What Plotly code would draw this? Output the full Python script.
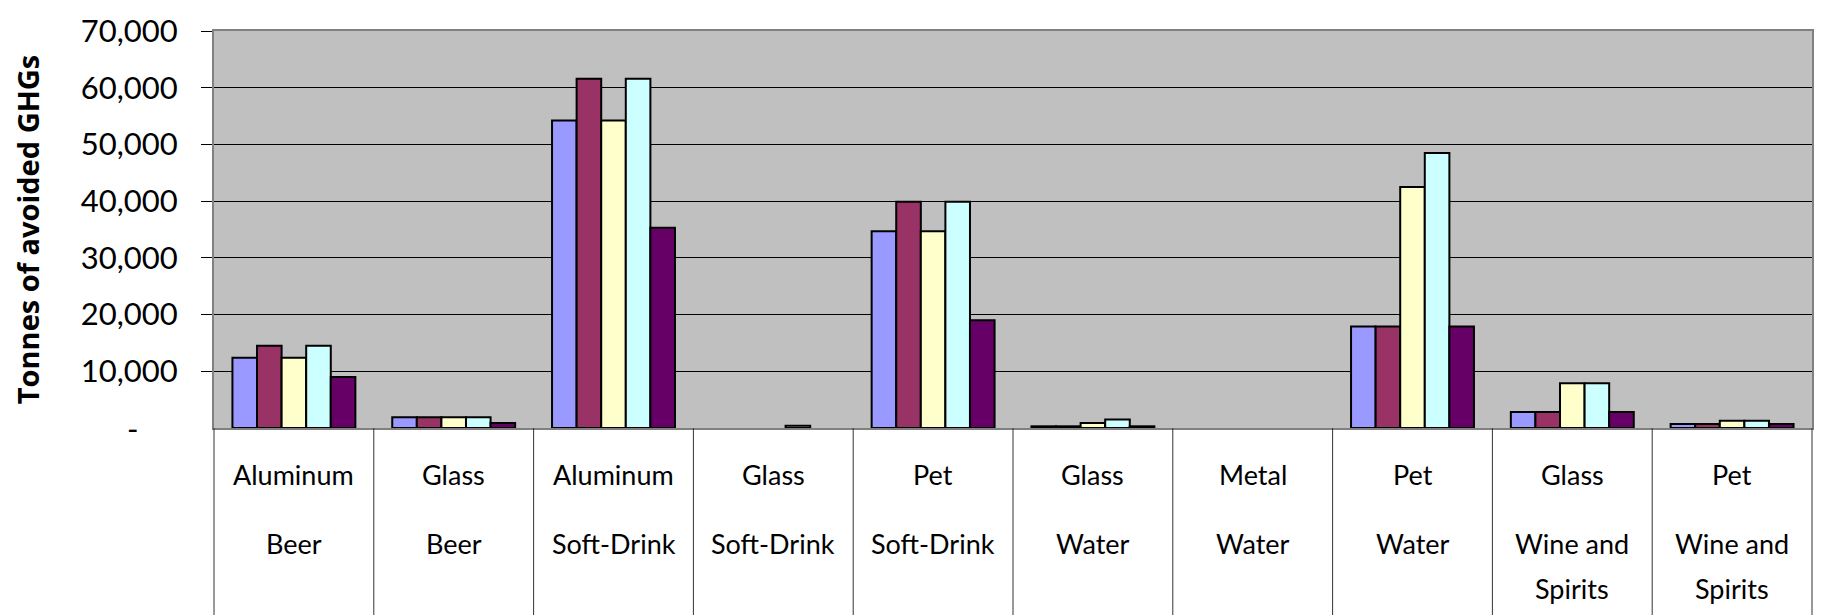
import plotly.graph_objects as go

# Container material (first label row) and beverage type (second label row)
materials = ["Aluminum", "Glass", "Aluminum", "Glass", "Pet", "Glass", "Metal", "Pet", "Glass", "Pet"]
beverages = ["Beer", "Beer", "Soft-Drink", "Soft-Drink", "Soft-Drink", "Water", "Water", "Water",
             "Wine and Spirits", "Wine and Spirits"]

# Tonnes of avoided GHGs, five series per category (None = no bar)
series_names = ["Series 1", "Series 2", "Series 3", "Series 4", "Series 5"]
series_1 = [12400, 1900, 54200, None, 34700, 300, None, 17900, 2800, 700]
series_2 = [14500, 1900, 61600, None, 39900, 300, None, 17900, 2800, 700]
series_3 = [12400, 1900, 54200, None, 34700, 900, None, 42500, 7900, 1300]
series_4 = [14500, 1900, 61600, 400, 39900, 1500, None, 48500, 7900, 1300]
series_5 = [9000, 900, 35300, None, 19000, 300, None, 17900, 2800, 700]

y_tick_values = [10000, 20000, 30000, 40000, 50000, 60000, 70000]
y_tick_labels = ["10,000", "20,000", "30,000", "40,000", "50,000", "60,000", "70,000"]

colors = ["#9999FF", "#993366", "#FFFFCC", "#CCFFFF", "#660066"]
FONT = "Lato"

W, H = 1825, 615
ML, MR, MT, MB = 214, 11, 23, 187
plot_h = H - MT - MB

fig = go.Figure()
positions = list(range(len(materials)))
for name, vals, col in zip(series_names,
                           [series_1, series_2, series_3, series_4, series_5],
                           colors):
    fig.add_trace(go.Bar(
        x=positions, y=vals, name=name,
        marker=dict(color=col, line=dict(color="black", width=2)),
    ))

fig.update_layout(
    width=W, height=H,
    margin=dict(l=ML, r=MR, t=MT, b=MB, pad=0),
    paper_bgcolor="white",
    plot_bgcolor="#C0C0C0",
    barmode="group",
    bargap=0.2308,
    bargroupgap=0,
    showlegend=False,
    font=dict(family=FONT, color="black"),
)

fig.update_xaxes(
    range=[-0.5, len(materials) - 0.5],
    showticklabels=False, ticks="",
    showgrid=False, zeroline=False,
    showline=True, linecolor="#808080", linewidth=2, mirror=True,
)

fig.update_yaxes(
    range=[0, 70000],
    tickvals=y_tick_values, ticktext=y_tick_labels,
    tickfont=dict(family=FONT, size=31, color="black"),
    ticks="outside", ticklen=11, tickcolor="black", tickwidth=1,
    ticklabelstandoff=17,
    showgrid=True, gridcolor="black", gridwidth=1,
    zeroline=False,
    showline=True, linecolor="#808080", linewidth=2, mirror=True,
    title=dict(text="<b>Tonnes of avoided GHGs</b>",
               font=dict(family="Open Sans", size=29, color="black"),
               standoff=33),
)

# zero value label shown as a dash
fig.add_annotation(
    x=(133 - ML) / (W - ML - MR), xref="paper", y=0, yref="y",
    text="-", showarrow=False, xanchor="center", yanchor="middle",
    font=dict(family=FONT, size=31, color="black"),
)

n = len(materials)
bottom = -(MB + 5) / plot_h

# category separators running down through the label area
for i in range(n + 1):
    fig.add_shape(
        type="line", xref="paper", yref="paper",
        x0=i / n, x1=i / n, y0=0, y1=bottom,
        line=dict(color="#333333", width=1),
    )


def wrap(label):
    return label.replace(" and ", " and\n").split("\n")


row1_y = (MT + plot_h - 475) / plot_h
row2_y = (MT + plot_h - 546) / plot_h
line_step = 46 / plot_h

for i, (mat, bev) in enumerate(zip(materials, beverages)):
    xc = (i + 0.5) / n
    fig.add_annotation(
        x=xc, xref="paper", y=row1_y, yref="paper",
        text=mat, showarrow=False, xanchor="center", yanchor="middle",
        font=dict(family=FONT, size=27, color="black"),
    )
    for k, line in enumerate(wrap(bev)):
        fig.add_annotation(
            x=xc, xref="paper", y=row2_y - k * line_step, yref="paper",
            text=line, showarrow=False, xanchor="center", yanchor="middle",
            font=dict(family=FONT, size=27, color="black"),
        )

fig.write_html("out.html")
